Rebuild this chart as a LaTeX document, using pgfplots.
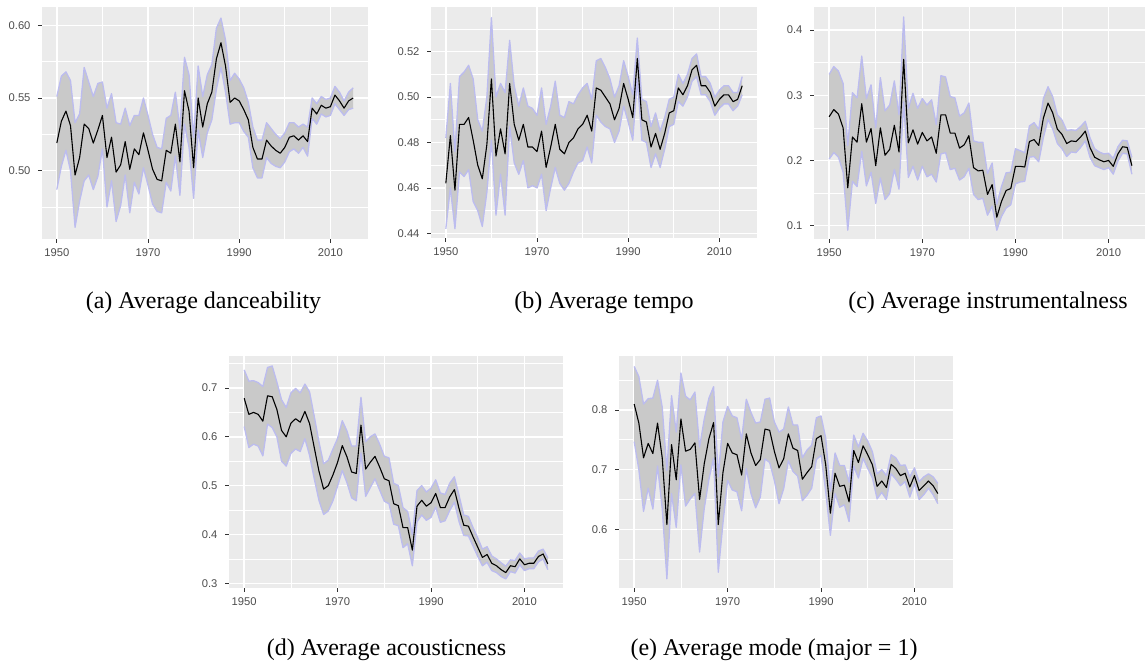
\documentclass[border=0pt]{standalone}
\usepackage{pgfplots}
\pgfplotsset{compat=1.18}
\usepackage{pgfplotstable}
\usepackage{fontspec}
\setmainfont{Liberation Serif}
\newfontfamily\ggsans{Liberation Sans}

\definecolor{panelbg}{HTML}{EBEBEB}
\definecolor{ribfill}{HTML}{C9C9C9}
\definecolor{ribline}{HTML}{BCBCEF}
\definecolor{labgray}{HTML}{4D4D4D}
\definecolor{tickgray}{HTML}{333333}

% columns: year, mean, lower, upper, band width (upper - lower)
% danceability
\pgfplotstableread{
year m lo hi w
1950 .519 .487 .551 .064
1951 .534 .503 .565 .062
1952 .541 .514 .568 .054
1953 .531 .500 .562 .062
1954 .497 .461 .533 .072
1955 .509 .479 .539 .060
1956 .532 .493 .571 .078
1957 .529 .497 .561 .064
1958 .519 .487 .551 .064
1959 .528 .496 .560 .064
1960 .538 .515 .561 .046
1961 .509 .475 .543 .068
1962 .523 .493 .553 .060
1963 .499 .465 .533 .068
1964 .504 .476 .532 .056
1965 .520 .497 .543 .046
1966 .501 .471 .531 .060
1967 .515 .492 .538 .046
1968 .511 .484 .538 .054
1969 .526 .502 .550 .048
1970 .514 .490 .538 .048
1971 .501 .477 .525 .048
1972 .494 .472 .516 .044
1973 .493 .471 .515 .044
1974 .514 .492 .536 .044
1975 .512 .486 .538 .052
1976 .532 .510 .554 .044
1977 .506 .483 .529 .046
1978 .555 .532 .578 .046
1979 .541 .516 .566 .050
1980 .502 .481 .523 .042
1981 .550 .528 .572 .044
1982 .530 .509 .551 .042
1983 .546 .526 .566 .040
1984 .554 .535 .573 .038
1985 .577 .556 .598 .042
1986 .588 .571 .605 .034
1987 .572 .554 .590 .036
1988 .547 .532 .562 .030
1989 .550 .533 .567 .034
1990 .548 .533 .563 .030
1991 .542 .527 .557 .030
1992 .535 .523 .547 .024
1993 .516 .502 .530 .028
1994 .508 .495 .521 .026
1995 .508 .495 .521 .026
1996 .521 .509 .533 .024
1997 .517 .505 .529 .024
1998 .514 .503 .525 .022
1999 .512 .502 .522 .020
2000 .516 .506 .526 .020
2001 .523 .513 .533 .020
2002 .524 .515 .533 .018
2003 .521 .512 .530 .018
2004 .524 .516 .532 .016
2005 .520 .510 .530 .020
2006 .543 .536 .550 .014
2007 .539 .532 .546 .014
2008 .545 .539 .551 .012
2009 .543 .537 .549 .012
2010 .544 .538 .550 .012
2011 .552 .546 .558 .012
2012 .548 .542 .554 .012
2013 .543 .538 .548 .010
2014 .548 .542 .554 .012
2015 .550 .543 .557 .014
}\tabA

% tempo
\pgfplotstableread{
year m lo hi w
1950 .462 .442 .482 .040
1951 .483 .460 .506 .046
1952 .459 .442 .476 .034
1953 .488 .467 .509 .042
1954 .488 .465 .511 .046
1955 .491 .468 .514 .046
1956 .481 .454 .508 .054
1957 .470 .450 .490 .040
1958 .464 .443 .485 .042
1959 .479 .458 .500 .042
1960 .508 .481 .535 .054
1961 .474 .448 .500 .052
1962 .486 .466 .506 .040
1963 .475 .448 .502 .054
1964 .506 .487 .525 .038
1965 .488 .471 .505 .034
1966 .481 .466 .496 .030
1967 .488 .472 .504 .032
1968 .478 .460 .496 .036
1969 .478 .461 .495 .034
1970 .476 .460 .492 .032
1971 .485 .466 .504 .038
1972 .469 .450 .488 .038
1973 .478 .460 .496 .036
1974 .488 .469 .507 .038
1975 .477 .462 .492 .030
1976 .475 .459 .491 .032
1977 .480 .462 .498 .036
1978 .482 .467 .497 .030
1979 .486 .471 .501 .030
1980 .488 .472 .504 .032
1981 .492 .478 .506 .028
1982 .485 .471 .499 .028
1983 .504 .492 .516 .024
1984 .503 .489 .517 .028
1985 .500 .487 .513 .026
1986 .497 .486 .508 .022
1987 .490 .480 .500 .020
1988 .495 .485 .505 .020
1989 .506 .496 .516 .020
1990 .499 .489 .509 .020
1991 .491 .481 .501 .020
1992 .517 .508 .526 .018
1993 .490 .481 .499 .018
1994 .489 .480 .498 .018
1995 .478 .469 .487 .018
1996 .484 .475 .493 .018
1997 .477 .469 .485 .016
1998 .484 .477 .491 .014
1999 .493 .487 .499 .012
2000 .494 .488 .500 .012
2001 .504 .498 .510 .012
2002 .501 .496 .506 .010
2003 .505 .500 .510 .010
2004 .512 .507 .517 .010
2005 .514 .509 .519 .010
2006 .505 .501 .509 .008
2007 .505 .501 .509 .008
2008 .502 .498 .506 .008
2009 .496 .492 .500 .008
2010 .499 .495 .503 .008
2011 .501 .497 .505 .008
2012 .501 .497 .505 .008
2013 .498 .494 .502 .008
2014 .499 .496 .502 .006
2015 .505 .501 .509 .008
}\tabB

% instrumentalness
\pgfplotstableread{
year m lo hi w
1950 .267 .202 .332 .130
1951 .278 .212 .344 .132
1952 .271 .205 .337 .132
1953 .250 .182 .318 .136
1954 .158 .093 .223 .130
1955 .236 .168 .304 .136
1956 .228 .160 .296 .136
1957 .287 .214 .360 .146
1958 .228 .161 .295 .134
1959 .249 .182 .316 .134
1960 .192 .134 .250 .116
1961 .250 .173 .327 .154
1962 .208 .140 .276 .136
1963 .217 .149 .285 .136
1964 .254 .186 .322 .136
1965 .213 .156 .270 .114
1966 .355 .290 .420 .130
1967 .227 .174 .280 .106
1968 .247 .191 .303 .112
1969 .225 .170 .280 .110
1970 .243 .191 .295 .104
1971 .230 .175 .285 .110
1972 .236 .179 .293 .114
1973 .211 .167 .255 .088
1974 .270 .210 .330 .120
1975 .270 .212 .328 .116
1976 .242 .186 .298 .112
1977 .242 .188 .296 .108
1978 .219 .170 .268 .098
1979 .224 .175 .273 .098
1980 .238 .188 .288 .100
1981 .189 .148 .230 .082
1982 .184 .140 .228 .088
1983 .185 .142 .228 .086
1984 .148 .116 .180 .064
1985 .163 .130 .196 .066
1986 .113 .093 .133 .040
1987 .137 .114 .160 .046
1988 .154 .127 .181 .054
1989 .157 .132 .182 .050
1990 .191 .164 .218 .054
1991 .191 .167 .215 .048
1992 .190 .168 .212 .044
1993 .229 .205 .253 .048
1994 .232 .206 .258 .052
1995 .223 .198 .248 .050
1996 .265 .235 .295 .060
1997 .288 .263 .313 .050
1998 .273 .248 .298 .050
1999 .248 .226 .270 .044
2000 .240 .218 .262 .044
2001 .226 .206 .246 .040
2002 .230 .213 .247 .034
2003 .229 .212 .246 .034
2004 .236 .220 .252 .032
2005 .245 .230 .260 .030
2006 .220 .205 .235 .030
2007 .205 .192 .218 .026
2008 .201 .189 .213 .024
2009 .198 .186 .210 .024
2010 .200 .189 .211 .022
2011 .191 .179 .203 .024
2012 .210 .199 .221 .022
2013 .221 .211 .231 .020
2014 .220 .210 .230 .020
2015 .192 .179 .205 .026
}\tabC

% acousticness
\pgfplotstableread{
year m lo hi w
1950 .679 .621 .737 .116
1951 .646 .578 .714 .136
1952 .650 .585 .715 .130
1953 .646 .581 .711 .130
1954 .632 .561 .703 .142
1955 .684 .626 .742 .116
1956 .682 .619 .745 .126
1957 .656 .600 .712 .112
1958 .613 .550 .676 .126
1959 .600 .540 .660 .120
1960 .628 .566 .690 .124
1961 .637 .575 .699 .124
1962 .630 .570 .690 .120
1963 .652 .596 .708 .112
1964 .627 .562 .692 .130
1965 .578 .514 .642 .128
1966 .530 .470 .590 .120
1967 .493 .441 .545 .104
1968 .500 .448 .552 .104
1969 .522 .469 .575 .106
1970 .548 .499 .597 .098
1971 .582 .531 .633 .102
1972 .559 .506 .612 .106
1973 .528 .475 .581 .106
1974 .525 .469 .581 .112
1975 .624 .567 .681 .114
1976 .534 .478 .590 .112
1977 .548 .496 .600 .104
1978 .560 .514 .606 .092
1979 .538 .491 .585 .094
1980 .514 .468 .560 .092
1981 .510 .463 .557 .094
1982 .463 .421 .505 .084
1983 .459 .418 .500 .082
1984 .414 .373 .455 .082
1985 .414 .381 .447 .066
1986 .368 .336 .400 .064
1987 .458 .426 .490 .064
1988 .470 .440 .500 .060
1989 .458 .429 .487 .058
1990 .465 .435 .495 .060
1991 .484 .456 .512 .056
1992 .455 .425 .485 .060
1993 .455 .428 .482 .054
1994 .477 .449 .505 .056
1995 .492 .466 .518 .052
1996 .453 .426 .480 .054
1997 .419 .398 .440 .042
1998 .417 .397 .437 .040
1999 .395 .376 .414 .038
2000 .374 .355 .393 .038
2001 .353 .336 .370 .034
2002 .359 .343 .375 .032
2003 .341 .326 .356 .030
2004 .336 .322 .350 .028
2005 .328 .314 .342 .028
2006 .322 .309 .335 .026
2007 .336 .324 .348 .024
2008 .334 .321 .347 .026
2009 .350 .338 .362 .024
2010 .338 .326 .350 .024
2011 .341 .330 .352 .022
2012 .341 .330 .352 .022
2013 .355 .344 .366 .022
2014 .360 .350 .370 .020
2015 .340 .328 .352 .024
}\tabD

% mode
\pgfplotstableread{
year m lo hi w
1950 .810 .747 .873 .126
1951 .778 .700 .856 .156
1952 .720 .630 .810 .180
1953 .744 .669 .819 .150
1954 .727 .634 .820 .186
1955 .778 .706 .850 .144
1956 .720 .635 .805 .170
1957 .608 .517 .699 .182
1958 .742 .660 .824 .164
1959 .683 .603 .763 .160
1960 .785 .708 .862 .154
1961 .731 .639 .823 .184
1962 .734 .651 .817 .166
1963 .745 .660 .830 .170
1964 .650 .562 .738 .176
1965 .710 .635 .785 .150
1966 .752 .684 .820 .136
1967 .779 .719 .839 .120
1968 .608 .528 .688 .160
1969 .695 .610 .780 .170
1970 .744 .682 .806 .124
1971 .728 .666 .790 .124
1972 .725 .663 .787 .124
1973 .691 .631 .751 .120
1974 .760 .702 .818 .116
1975 .728 .660 .796 .136
1976 .707 .636 .778 .142
1977 .717 .654 .780 .126
1978 .768 .718 .818 .100
1979 .766 .712 .820 .108
1980 .731 .682 .780 .098
1981 .703 .643 .763 .120
1982 .718 .668 .768 .100
1983 .760 .715 .805 .090
1984 .736 .697 .775 .078
1985 .732 .689 .775 .086
1986 .684 .648 .720 .072
1987 .695 .657 .733 .076
1988 .705 .669 .741 .072
1989 .752 .717 .787 .070
1990 .757 .724 .790 .066
1991 .708 .663 .753 .090
1992 .627 .590 .664 .074
1993 .694 .660 .728 .068
1994 .672 .637 .707 .070
1995 .674 .641 .707 .066
1996 .646 .613 .679 .066
1997 .732 .706 .758 .052
1998 .712 .686 .738 .052
1999 .740 .719 .761 .042
2000 .725 .702 .748 .046
2001 .708 .686 .730 .044
2002 .672 .651 .693 .042
2003 .681 .662 .700 .038
2004 .670 .650 .690 .040
2005 .709 .693 .725 .032
2006 .702 .684 .720 .036
2007 .690 .673 .707 .034
2008 .694 .680 .708 .028
2009 .671 .654 .688 .034
2010 .690 .677 .703 .026
2011 .665 .650 .680 .030
2012 .673 .658 .688 .030
2013 .681 .669 .693 .024
2014 .673 .658 .688 .030
2015 .660 .643 .677 .034
}\tabE

\pgfplotsset{
  gg/.style={
    scale only axis, anchor=south west,
    xmin=1946.75, xmax=2018.25,
    axis background/.style={fill=panelbg},
    axis line style={draw=none},
    tick pos=left, tick align=outside,
    major tick length=4pt, minor tick length=0pt,
    tick style={tickgray, line width=0.8pt},
    xtick={1950,1970,1990,2010}, xticklabels={1950,1970,1990,2010},
    minor xtick={1960,1980,2000},
    grid=both,
    major grid style={white, line width=1.4pt},
    minor grid style={white, line width=0.7pt},
    ticklabel style={font=\ggsans\fontsize{11.2}{13}\selectfont, text=labgray},
    yticklabel style={xshift=-4pt},
    xticklabel style={yshift=-2.5pt},
  },
}
% ribbon: lower bound, then the band stacked on it and closed back to it
\newcommand\ribbon[1]{%
  \addplot[draw=none, stack plots=y] table[x=year, y=lo] {#1};
  \addplot[fill=ribfill, draw=none, stack plots=y] table[x=year, y=w] {#1} \closedcycle;
  \addplot[ribline, line width=1.3pt, line join=round] table[x=year, y=hi] {#1};
  \addplot[ribline, line width=1.3pt, line join=round] table[x=year, y=lo] {#1};
  \addplot[black, line width=1.1pt, line join=round] table[x=year, y=m] {#1};
}

\begin{document}
\begin{tikzpicture}
\useasboundingbox (0pt,0pt) rectangle (1145pt,666pt);

\begin{axis}[gg, at={(42pt,427pt)}, width=326pt, height=232pt,
  ymin=0.4530, ymax=0.6126,
  ytick={0.50,0.55,0.60}, yticklabels={0.50,0.55,0.60},
  minor ytick={0.475,0.525,0.575}]
\ribbon{\tabA}
\end{axis}

\begin{axis}[gg, at={(431pt,428pt)}, width=326pt, height=231pt,
  ymin=0.43794, ymax=0.53967,
  ytick={0.44,0.46,0.48,0.50,0.52}, yticklabels={0.44,0.46,0.48,0.50,0.52},
  minor ytick={0.45,0.47,0.49,0.51,0.53}]
\ribbon{\tabB}
\end{axis}

\begin{axis}[gg, at={(814pt,427pt)}, width=333pt, height=232pt,
  ymin=0.0796, ymax=0.4353,
  ytick={0.1,0.2,0.3,0.4}, yticklabels={0.1,0.2,0.3,0.4},
  minor ytick={0.15,0.25,0.35}]
\ribbon{\tabC}
\end{axis}

\begin{axis}[gg, at={(229pt,78pt)}, width=334pt, height=232pt,
  ymin=0.2904, ymax=0.7655,
  ytick={0.3,0.4,0.5,0.6,0.7}, yticklabels={0.3,0.4,0.5,0.6,0.7},
  minor ytick={0.35,0.45,0.55,0.65,0.75}]
\ribbon{\tabD}
\end{axis}

\begin{axis}[gg, at={(619pt,78pt)}, width=334pt, height=232pt,
  ymin=0.5017, ymax=0.8905,
  ytick={0.6,0.7,0.8}, yticklabels={0.6,0.7,0.8},
  minor ytick={0.55,0.65,0.75,0.85}]
\ribbon{\tabE}
\end{axis}

\begin{scope}[every node/.style={anchor=base, font=\fontsize{24}{28}\selectfont}]
\node at (203.5pt,357pt) {(a) Average danceability};
\node at (604pt,357pt) {(b) Average tempo};
\node at (988pt,357pt) {(c) Average instrumentalness};
\node at (386.5pt,10pt) {(d) Average acousticness};
\node at (774pt,10pt) {(e) Average mode (major = 1)};
\end{scope}
\end{tikzpicture}
\end{document}
